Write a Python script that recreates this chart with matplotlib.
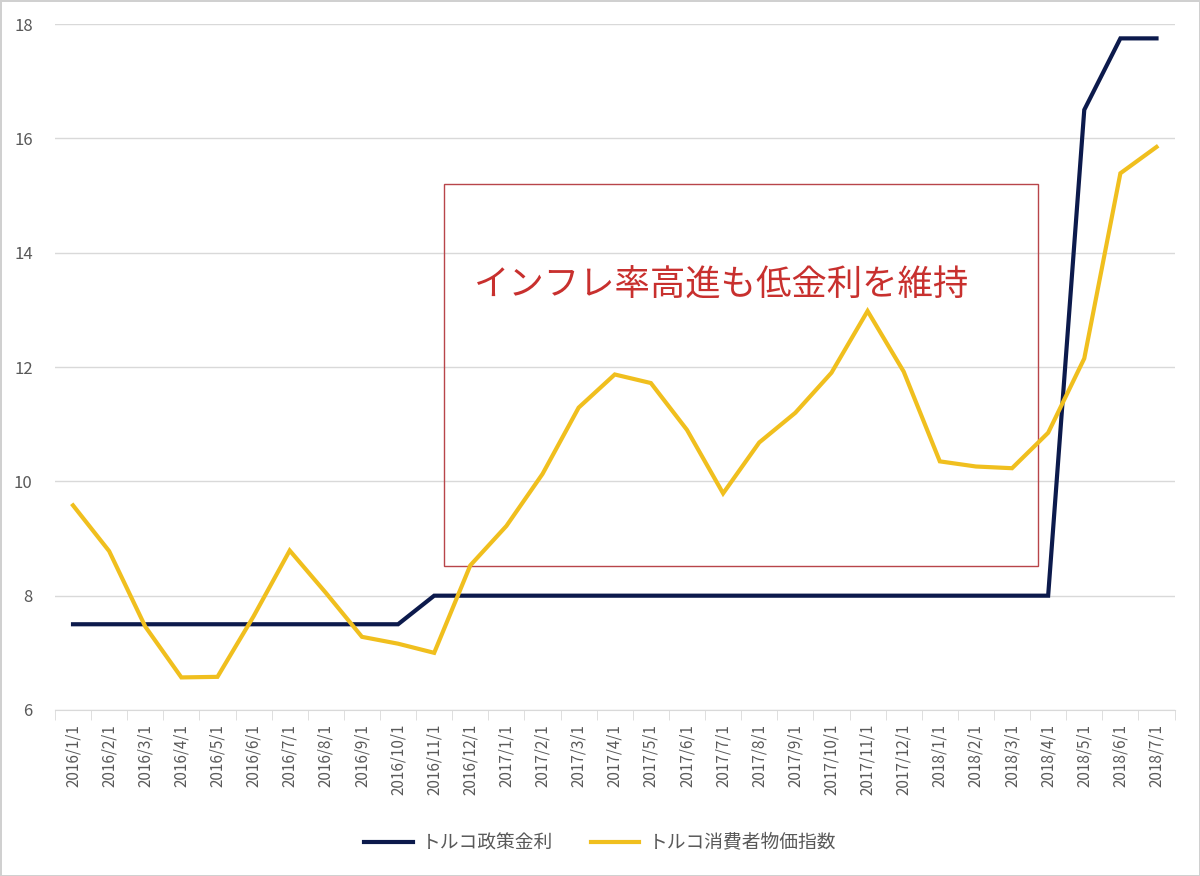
import matplotlib
matplotlib.use("Agg")
import matplotlib.pyplot as plt
from matplotlib.patches import Rectangle
from matplotlib.ticker import FixedLocator

plt.rcParams['font.family'] = ['Noto Sans CJK JP', 'DejaVu Sans']

# 月次データ (2016/1 - 2018/7)
dates = ['2016/1/1', '2016/2/1', '2016/3/1', '2016/4/1', '2016/5/1', '2016/6/1',
         '2016/7/1', '2016/8/1', '2016/9/1', '2016/10/1', '2016/11/1', '2016/12/1',
         '2017/1/1', '2017/2/1', '2017/3/1', '2017/4/1', '2017/5/1', '2017/6/1',
         '2017/7/1', '2017/8/1', '2017/9/1', '2017/10/1', '2017/11/1', '2017/12/1',
         '2018/1/1', '2018/2/1', '2018/3/1', '2018/4/1', '2018/5/1', '2018/6/1',
         '2018/7/1']
policy_rate = [7.5, 7.5, 7.5, 7.5, 7.5, 7.5, 7.5, 7.5, 7.5, 7.5, 8, 8,
               8, 8, 8, 8, 8, 8, 8, 8, 8, 8, 8, 8,
               8, 8, 8, 8, 16.5, 17.75, 17.75]
cpi = [9.58, 8.78, 7.46, 6.57, 6.58, 7.64, 8.79, 8.05, 7.28, 7.16, 7.0, 8.53,
       9.22, 10.13, 11.29, 11.87, 11.72, 10.90, 9.79, 10.68, 11.20, 11.90, 12.98, 11.92,
       10.35, 10.26, 10.23, 10.85, 12.15, 15.39, 15.85]
series_names = ['トルコ政策金利', 'トルコ消費者物価指数']
note = 'インフレ率高進も低金利を維持'

NAVY = '#0c1a4c'
GOLD = '#f0bf1e'
GRID = '#d9d9d9'
TXT = '#595959'

fig = plt.figure(figsize=(12, 8.76), dpi=100)
fig.patch.set_edgecolor('#d0d0d0')
fig.patch.set_linewidth(2)
ax = fig.add_axes([0.0458, 0.1895, 0.933, 0.783])

x = list(range(len(dates)))
l1, = ax.plot(x, policy_rate, color=NAVY, lw=3, solid_joinstyle='miter')
l2, = ax.plot(x, cpi, color=GOLD, lw=3, solid_joinstyle='miter')

ax.set_xlim(-0.5, len(dates) - 0.5)
ax.set_ylim(6, 18)
ax.set_yticks([6, 8, 10, 12, 14, 16, 18])
ax.yaxis.grid(True, color=GRID, lw=1)
ax.set_axisbelow(True)
for s in ['top', 'right', 'left']:
    ax.spines[s].set_visible(False)
ax.spines['bottom'].set_color(GRID)
ax.tick_params(axis='y', length=0, pad=16, labelsize=12, labelcolor=TXT)

ax.set_xticks(x)
ax.set_xticklabels(dates, rotation=90, fontsize=11, color=TXT)
ax.tick_params(axis='x', which='major', length=0, pad=10)
ax.xaxis.set_minor_locator(FixedLocator([i - 0.5 for i in range(len(dates) + 1)]))
ax.tick_params(axis='x', which='minor', length=7, color=GRID)

# 注記の枠
ax.add_patch(Rectangle((10.27, 8.52), 16.46, 6.69, fill=False,
                       edgecolor='#b8454a', lw=1, zorder=1))
ax.text(11.1, 13.43, note, color='#c8302e', fontsize=25.5, va='center', ha='left')

fig.legend([l1, l2], series_names, loc='center', bbox_to_anchor=(0.5, 0.038),
           ncol=2, frameon=False, fontsize=13.5, labelcolor=TXT,
           handlelength=2.6, columnspacing=2.0, handletextpad=0.5)

fig.savefig('out.png', dpi=100)
